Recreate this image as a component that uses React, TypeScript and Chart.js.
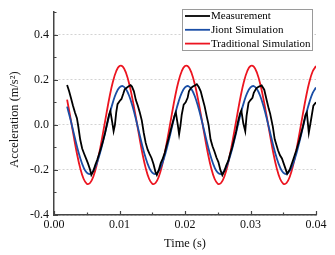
import React, { useEffect, useRef } from "react";
import { Chart, registerables } from "chart.js";

Chart.register(...registerables);

const simTime = [
  0.002, 0.0025, 0.003, 0.0035, 0.004, 0.0045, 0.005, 0.0055, 0.006, 0.0065,
  0.007, 0.0075, 0.008, 0.0085, 0.009, 0.0095, 0.01, 0.0105, 0.011, 0.0115,
  0.012, 0.0125, 0.013, 0.0135, 0.014, 0.0145, 0.015, 0.0155, 0.016, 0.0165,
  0.017, 0.0175, 0.018, 0.0185, 0.019, 0.0195, 0.02, 0.0205, 0.021, 0.0215,
  0.022, 0.0225, 0.023, 0.0235, 0.024, 0.0245, 0.025, 0.0255, 0.026, 0.0265,
  0.027, 0.0275, 0.028, 0.0285, 0.029, 0.0295, 0.03, 0.0305, 0.031, 0.0315,
  0.032, 0.0325, 0.033, 0.0335, 0.034, 0.0345, 0.035, 0.0355, 0.036, 0.0365,
  0.037, 0.0375, 0.038, 0.0385, 0.039, 0.0395, 0.04,
];

const jointSim = [
  0.081, 0.026, -0.035, -0.095, -0.147, -0.188, -0.212, -0.218, -0.204, -0.173,
  -0.128, -0.072, -0.011, 0.049, 0.101, 0.142, 0.166, 0.172, 0.158, 0.127,
  0.081, 0.026, -0.035, -0.095, -0.147, -0.188, -0.212, -0.218, -0.204, -0.173,
  -0.128, -0.072, -0.011, 0.049, 0.101, 0.142, 0.166, 0.172, 0.158, 0.127,
  0.081, 0.026, -0.035, -0.095, -0.147, -0.188, -0.212, -0.218, -0.204, -0.173,
  -0.128, -0.072, -0.011, 0.049, 0.101, 0.142, 0.166, 0.172, 0.158, 0.127,
  0.081, 0.026, -0.035, -0.095, -0.147, -0.188, -0.212, -0.218, -0.204, -0.173,
  -0.128, -0.072, -0.011, 0.049, 0.101, 0.142, 0.166,
];

const traditionalSim = [
  0.112, 0.033, -0.049, -0.127, -0.192, -0.238, -0.261, -0.258, -0.23, -0.18,
  -0.112, -0.033, 0.049, 0.127, 0.192, 0.238, 0.261, 0.258, 0.23, 0.18,
  0.112, 0.033, -0.049, -0.127, -0.192, -0.238, -0.261, -0.258, -0.23, -0.18,
  -0.112, -0.033, 0.049, 0.127, 0.192, 0.238, 0.261, 0.258, 0.23, 0.18,
  0.112, 0.033, -0.049, -0.127, -0.192, -0.238, -0.261, -0.258, -0.23, -0.18,
  -0.112, -0.033, 0.049, 0.127, 0.192, 0.238, 0.261, 0.258, 0.23, 0.18,
  0.112, 0.033, -0.049, -0.127, -0.192, -0.238, -0.261, -0.258, -0.23, -0.18,
  -0.112, -0.033, 0.049, 0.127, 0.192, 0.238, 0.261,
];

const measTime = [
  0.002, 0.0023, 0.0026, 0.0029, 0.0032, 0.0035, 0.0037, 0.004, 0.0043, 0.0046,
  0.0049, 0.0052, 0.0055, 0.0057, 0.006, 0.0063, 0.0066, 0.0069, 0.0072, 0.0075,
  0.0078, 0.0081, 0.0084, 0.0086, 0.0089, 0.0091, 0.0093, 0.0095, 0.0097, 0.01,
  0.0103, 0.0106, 0.0108, 0.0111, 0.0114, 0.0117, 0.0119, 0.0122, 0.0125, 0.0128,
  0.0131, 0.0134, 0.0137, 0.014, 0.0143, 0.0146, 0.0149, 0.0152, 0.0155, 0.0157,
  0.016, 0.0163, 0.0166, 0.0169, 0.0172, 0.0175, 0.0178, 0.0181, 0.0184, 0.0186,
  0.0189, 0.0191, 0.0193, 0.0195, 0.0198, 0.0201, 0.0204, 0.0206, 0.0209, 0.0212,
  0.0215, 0.0218, 0.0221, 0.0224, 0.0227, 0.023, 0.0233, 0.0236, 0.0239, 0.0242,
  0.0245, 0.0248, 0.0251, 0.0254, 0.0257, 0.026, 0.0263, 0.0266, 0.0269, 0.0272,
  0.0275, 0.0278, 0.0281, 0.0284, 0.0286, 0.0289, 0.0292, 0.0294, 0.0297, 0.03,
  0.0303, 0.0305, 0.0309, 0.0313, 0.0317, 0.0321, 0.0325, 0.0328, 0.033, 0.0334,
  0.0337, 0.0342, 0.0345, 0.0348, 0.0353, 0.0356, 0.036, 0.0365, 0.037, 0.0375,
  0.038, 0.0384, 0.0386, 0.0389, 0.0392, 0.0396, 0.04,
];

const measurement = [
  0.177, 0.15, 0.118, 0.085, 0.055, 0.03, -0.005, -0.065, -0.105, -0.128,
  -0.15, -0.172, -0.198, -0.222, -0.205, -0.178, -0.155, -0.128, -0.1, -0.07,
  -0.035, 0.005, 0.045, 0.062, 0.01, -0.028, 0.0, 0.055, 0.092, 0.105,
  0.115, 0.14, 0.158, 0.165, 0.171, 0.176, 0.17, 0.149, 0.11, 0.085,
  0.055, 0.02, -0.035, -0.08, -0.11, -0.13, -0.148, -0.175, -0.21, -0.222,
  -0.2, -0.17, -0.15, -0.125, -0.09, -0.06, -0.025, 0.008, 0.04, 0.055,
  0.0, -0.042, -0.005, 0.045, 0.09, 0.1, 0.12, 0.149, 0.163, 0.17,
  0.175, 0.18, 0.168, 0.149, 0.115, 0.082, 0.04, 0.0, -0.064, -0.095,
  -0.118, -0.145, -0.165, -0.2, -0.223, -0.205, -0.18, -0.16, -0.128, -0.1,
  -0.065, -0.03, 0.015, 0.05, 0.064, 0.007, -0.028, 0.04, 0.098, 0.11,
  0.12, 0.142, 0.163, 0.17, 0.175, 0.156, 0.106, 0.07, 0.05, -0.007,
  -0.064, -0.113, -0.135, -0.149, -0.191, -0.217, -0.198, -0.156, -0.113, -0.064,
  -0.007, 0.045, 0.055, -0.035, 0.015, 0.085, 0.1,
];

const seriesLabels = ["Measurement", "Jiont Simulation", "Traditional Simulation"];
const seriesColors = ["#000000", "#1a4ea6", "#ec1520"];
const xTickValues = [0, 0.01, 0.02, 0.03, 0.04];
const yTickValues = [-0.4, -0.2, 0, 0.2, 0.4];
const yTitle = "Acceleration (m/s\u00B2)";

const FONT = "'Liberation Serif', 'Times New Roman', serif";

const inwardTicks = {
  id: "inwardTicks",
  afterDraw(chart: any) {
    const { ctx, chartArea, scales } = chart;
    const xs = scales.x;
    const ys = scales.y;
    ctx.save();
    ctx.strokeStyle = "#444";
    ctx.lineWidth = 1.2;
    ctx.beginPath();
    for (let i = 0; i <= 8; i++) {
      const px = Math.round(xs.getPixelForValue(i * 0.005)) + 0.5;
      const len = i % 2 === 0 ? 4 : 2.5;
      ctx.moveTo(px, chartArea.bottom);
      ctx.lineTo(px, chartArea.bottom - len);
    }
    for (let i = -4; i <= 5; i++) {
      const py = Math.round(ys.getPixelForValue(i * 0.1)) + 0.5;
      const len = i % 2 === 0 ? 4 : 2.5;
      ctx.moveTo(chartArea.left, py);
      ctx.lineTo(chartArea.left + len, py);
    }
    ctx.stroke();
    // y axis title, slightly below the axis middle as in the reference
    ctx.fillStyle = "#111";
    ctx.font = `12.4px ${FONT}`;
    ctx.textAlign = "center";
    ctx.textBaseline = "middle";
    ctx.translate(15, (chartArea.top + chartArea.bottom) / 2 + 6);
    ctx.rotate(-Math.PI / 2);
    ctx.fillText(yTitle, 0, 0);
    ctx.restore();
  },
};

const boxLegend = {
  id: "boxLegend",
  afterDraw(chart: any) {
    const { ctx } = chart;
    const bx = 182.5, by = 9.5, bw = 130, bh = 41;
    ctx.save();
    ctx.fillStyle = "#ffffff";
    ctx.fillRect(bx, by, bw, bh);
    ctx.strokeStyle = "#9a9a9a";
    ctx.lineWidth = 1;
    ctx.strokeRect(bx, by, bw, bh);
    ctx.font = `11px ${FONT}`;
    ctx.textBaseline = "middle";
    ctx.textAlign = "left";
    chart.data.datasets.forEach((ds: any, i: number) => {
      const y = 16 + i * 13.8;
      ctx.strokeStyle = ds.borderColor;
      ctx.lineWidth = 1.8;
      ctx.beginPath();
      ctx.moveTo(185, y);
      ctx.lineTo(210, y);
      ctx.stroke();
      ctx.fillStyle = "#000";
      ctx.fillText(ds.label, 211, y + 0.5);
    });
    ctx.restore();
  },
};

export default function App() {
  const ref = useRef<HTMLCanvasElement | null>(null);

  useEffect(() => {
    if (!ref.current) return;
    const chart = new Chart(ref.current, {
      type: "line",
      data: {
        datasets: [
          {
            label: seriesLabels[0],
            data: measTime.map((t, i) => ({ x: t, y: measurement[i] })),
            borderColor: seriesColors[0],
            borderWidth: 1.8,
            pointRadius: 0,
            tension: 0,
          },
          {
            label: seriesLabels[1],
            data: simTime.map((t, i) => ({ x: t, y: jointSim[i] })),
            borderColor: seriesColors[1],
            borderWidth: 1.8,
            pointRadius: 0,
            tension: 0.4,
          },
          {
            label: seriesLabels[2],
            data: simTime.map((t, i) => ({ x: t, y: traditionalSim[i] })),
            borderColor: seriesColors[2],
            borderWidth: 1.8,
            pointRadius: 0,
            tension: 0.4,
          },
        ],
      },
      options: {
        animation: false,
        responsive: false,
        layout: { padding: { left: 0, top: 5, right: 19, bottom: 0 } },
        plugins: { legend: { display: false }, tooltip: { enabled: false } },
        scales: {
          x: {
            type: "linear",
            min: 0,
            max: 0.04,
            afterBuildTicks: (s: any) => {
              s.ticks = xTickValues.map((v) => ({ value: v }));
            },
            afterFit: (s: any) => {
              s.height = 40;
            },
            grid: { display: false, drawTicks: false },
            border: { display: true, color: "#444", width: 1.5 },
            ticks: {
              padding: 3,
              color: "#111",
              font: { family: FONT, size: 12 },
              maxRotation: 0,
              callback: (v: any) => Number(v).toFixed(2),
            },
            title: {
              display: true,
              text: "Time (s)",
              color: "#111",
              font: { family: FONT, size: 12.4 },
              padding: { top: 0, bottom: 4 },
            },
          },
          y: {
            type: "linear",
            min: -0.4,
            max: 0.5,
            afterBuildTicks: (s: any) => {
              s.ticks = yTickValues.map((v) => ({ value: v }));
            },
            afterFit: (s: any) => {
              s.width = 54;
            },
            grid: {
              display: true,
              drawTicks: false,
              color: "#c8c8c8",
              lineWidth: 0.8,
            },
            border: { display: true, color: "#444", width: 1.5, dash: [2, 2] },
            ticks: {
              padding: 5,
              color: "#111",
              font: { family: FONT, size: 12 },
              callback: (v: any) => Number(v).toFixed(1),
            },
            title: { display: false },
          },
        },
      } as any,
      plugins: [inwardTicks, boxLegend],
    });
    return () => chart.destroy();
  }, []);

  return (
    <div style={{ position: "absolute", left: 0, top: 0, width: 335, height: 255, background: "#fff" }}>
      <canvas ref={ref} width={335} height={255} style={{ display: "block" }} />
    </div>
  );
}
